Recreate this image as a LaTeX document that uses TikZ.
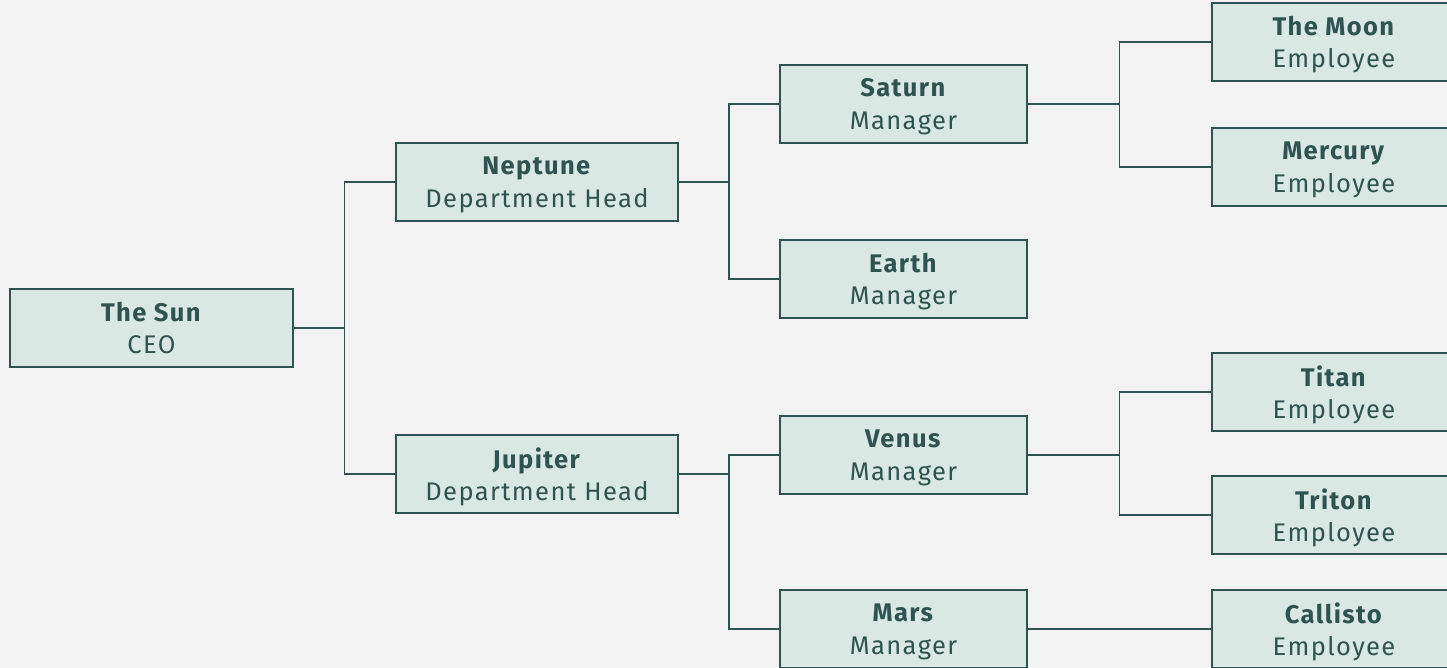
\documentclass[tikz,border=0pt]{standalone}
\usepackage{fontspec}
\setmainfont[LetterSpace=5.5]{Fira Sans}
\usetikzlibrary{calc}
\definecolor{bgcol}{HTML}{F3F3F3}
\definecolor{boxfill}{HTML}{D9E8E2}
\definecolor{inkgreen}{HTML}{2F5350}
\begin{document}
\begin{tikzpicture}[x=1pt, y=-1pt,
    box/.style={draw=inkgreen, fill=boxfill, line width=1.6pt, text=inkgreen,
        minimum height=78pt, align=center, inner sep=0pt, text depth=0pt,
        font=\fontsize{25.5}{32.6}\selectfont},
    ceo/.style={box, minimum width=283pt},
    head/.style={box, minimum width=282pt},
    mgr/.style={box, minimum width=247pt},
    emp/.style={box, minimum width=244pt},
    link/.style={draw=inkgreen, line width=1.6pt},
    elbow/.style={to path={-| ($(\tikztostart)!0.5!(\tikztotarget)$) |- (\tikztotarget)}}]
    % Canvas
    \fill[bgcol] (0, 0) rectangle (1447, 668);
    \useasboundingbox (0, 0) rectangle (1447, 668);

    % Top
    \node[ceo] (sun) at (151.5, 328) {\textbf{The Sun}\\CEO};

    % Department heads
    \node[head] (neptune) at (537, 182) {\textbf{Neptune}\\Department Head};
    \node[head] (jupiter) at (537, 474) {\textbf{Jupiter}\\Department Head};

    % Managers
    \node[mgr] (saturn) at (903.5, 104) {\textbf{Saturn}\\Manager};
    \node[mgr] (earth) at (903.5, 279) {\textbf{Earth}\\Manager};
    \node[mgr] (venus) at (903.5, 455) {\textbf{Venus}\\Manager};
    \node[mgr] (mars) at (903.5, 629) {\textbf{Mars}\\Manager};

    % Employees
    \node[emp] (moon) at (1334, 42) {\textbf{The Moon}\\Employee};
    \node[emp] (mercury) at (1334, 167) {\textbf{Mercury}\\Employee};
    \node[emp] (titan) at (1334, 392) {\textbf{Titan}\\Employee};
    \node[emp] (triton) at (1334, 515) {\textbf{Triton}\\Employee};
    \node[emp] (callisto) at (1334, 629) {\textbf{Callisto}\\Employee};

    % Links
    \foreach \a/\b in {sun/neptune, sun/jupiter,
                       neptune/saturn, neptune/earth,
                       jupiter/venus, jupiter/mars,
                       saturn/moon, saturn/mercury,
                       venus/titan, venus/triton,
                       mars/callisto} {
        \draw[link] (\a.east) to[elbow] (\b.west);
    }
\end{tikzpicture}
\end{document}
